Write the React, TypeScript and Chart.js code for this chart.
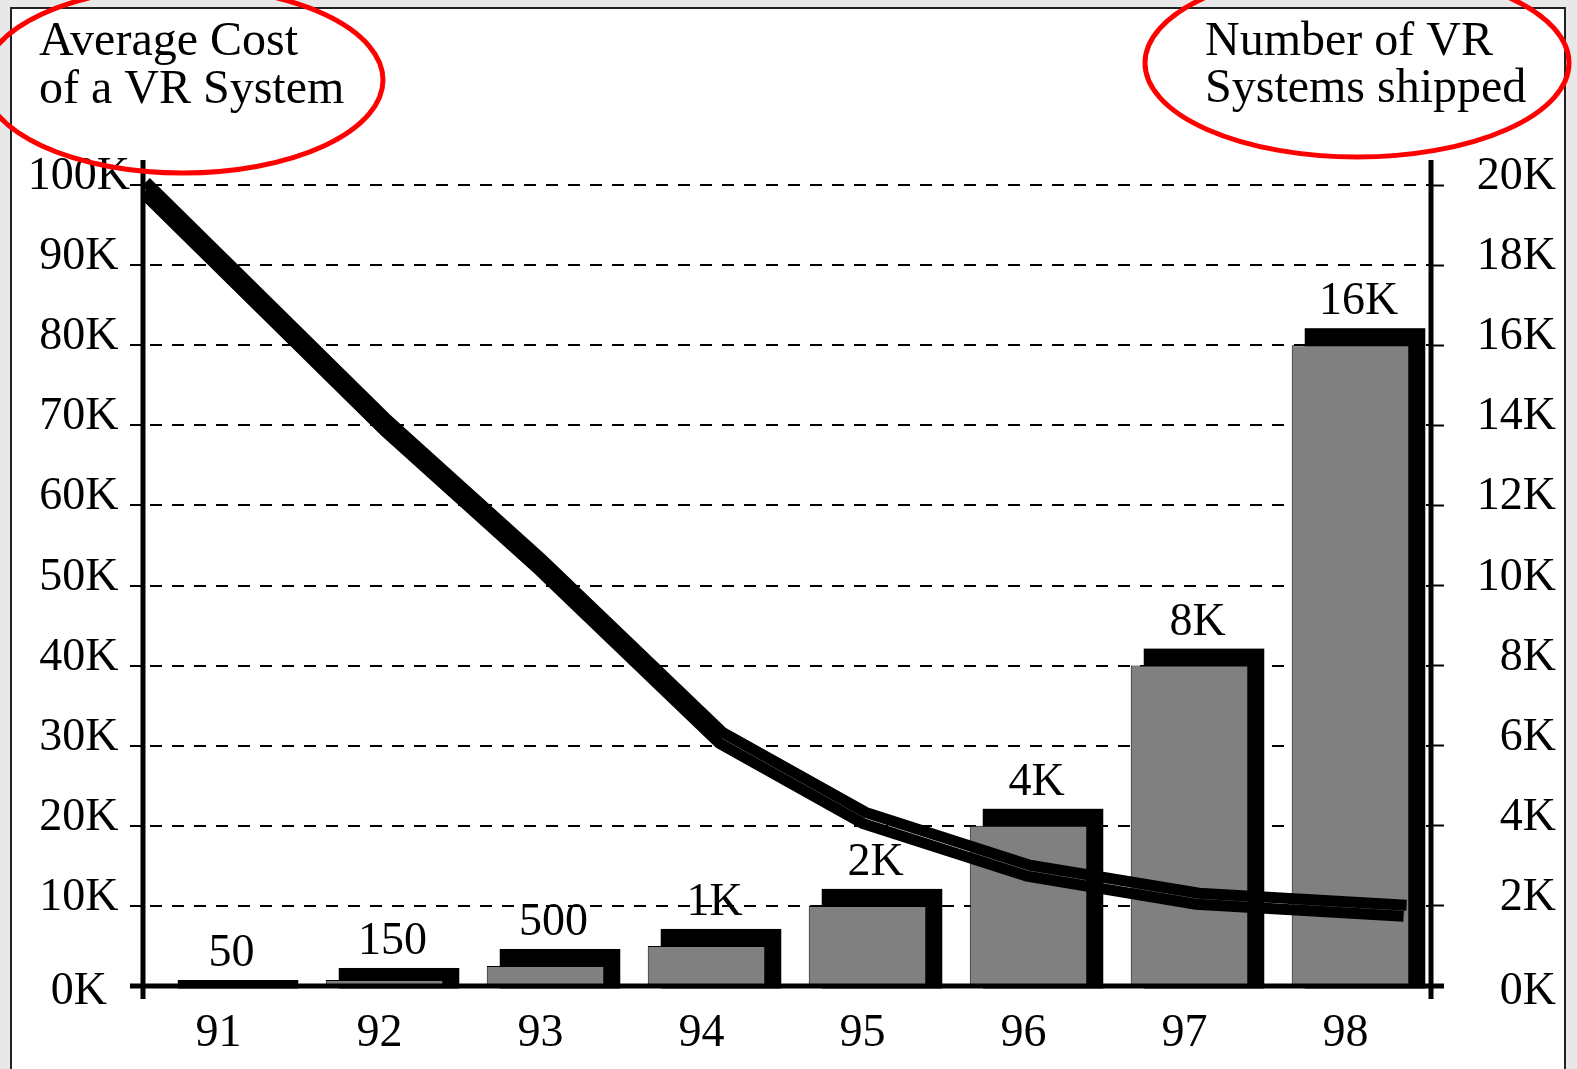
import React, { useEffect, useRef } from 'react';
import { Chart, registerables } from 'chart.js';

Chart.register(...registerables);

// ---- data ----
const YEARS = ['91', '92', '93', '94', '95', '96', '97', '98'];
const SYSTEMS_SHIPPED = [50, 150, 500, 1000, 2000, 4000, 8000, 16000];
const SHIPPED_LABELS = ['50', '150', '500', '1K', '2K', '4K', '8K', '16K'];

// cost line vertices, positioned along the year axis
const COST_YEARS = [90.5, 92, 92.96, 94.08, 94.97, 95.99, 97.04, 98.33];
const AVERAGE_COST = [99000, 69300, 51900, 30300, 20300, 13700, 10200, 8700];

const COST_TICK_LABELS = ['0K', '10K', '20K', '30K', '40K', '50K', '60K', '70K', '80K', '90K', '100K'];
const SHIPPED_TICK_LABELS = ['0K', '2K', '4K', '6K', '8K', '10K', '12K', '14K', '16K', '18K', '20K'];

const COST_TITLE = ['Average Cost', 'of a VR System'];
const SHIPPED_TITLE = ['Number of VR', 'Systems shipped'];

// ---- styling ----
const FAMILY = "'Liberation Serif', 'Times New Roman', serif";
const FONT_SIZE = 46;
const TITLE_SIZE = 48;
const INK = '#000';
const BAR_FILL = '#808080';
const AXIS_WIDTH = 5;
const SHADOW_RISE = 17;
const SHADOW_LEFT = 13;
const SHADOW_RIGHT = 16;
const LINE_WIDTH = 11;
const LINE_ECHO_DX = 3;
const LINE_ECHO_RISE = 11;

// zero tick gets an empty first line so it sits just under the baseline
const tickText = (labels: string[], step: number) => (value: number) => {
  const i = Math.round(value / step);
  const text = labels[i];
  return i === 0 ? ['', text] : text;
};

// drop shadow behind each bar
const barShadow = {
  id: 'barShadow',
  beforeDatasetDraw(chart: any, args: any) {
    if (args.meta.type !== 'bar') return;
    const ctx = chart.ctx;
    ctx.save();
    ctx.fillStyle = INK;
    for (const el of args.meta.data) {
      const h = el.base - el.y;
      const rise = Math.min(SHADOW_RISE, h * 2 + 1);
      const left = el.x - el.width / 2 + SHADOW_LEFT;
      const right = el.x + el.width / 2 + SHADOW_RIGHT;
      const top = el.y - rise;
      ctx.fillRect(left, top, right - left, el.base + 3 - top);
    }
    ctx.restore();
  },
};

// second stroke of the cost line, lifted above the first
const lineEcho = {
  id: 'lineEcho',
  afterDatasetDraw(chart: any, args: any) {
    if (args.meta.type !== 'line') return;
    const { ctx, chartArea } = chart;
    ctx.save();
    ctx.beginPath();
    ctx.rect(chartArea.left, 0, chart.width - chartArea.left, chart.height);
    ctx.clip();
    ctx.translate(LINE_ECHO_DX, -LINE_ECHO_RISE);
    args.meta.dataset.draw(ctx, chartArea);
    ctx.restore();
  },
};

// extended axis lines plus the value above each bar
const axesAndLabels = {
  id: 'axesAndLabels',
  afterDatasetsDraw(chart: any) {
    const { ctx, chartArea } = chart;
    const { left, right, top, bottom } = chartArea;
    ctx.save();
    ctx.strokeStyle = INK;
    ctx.lineWidth = AXIS_WIDTH;
    ctx.beginPath();
    ctx.moveTo(left, top - 25);
    ctx.lineTo(left, bottom + 13);
    ctx.moveTo(right, top - 25);
    ctx.lineTo(right, bottom + 13);
    ctx.moveTo(left - 13, bottom);
    ctx.lineTo(right + 13, bottom);
    ctx.stroke();

    const meta = chart.getDatasetMeta(1);
    ctx.fillStyle = INK;
    ctx.font = `${FONT_SIZE}px ${FAMILY}`;
    ctx.textAlign = 'center';
    ctx.textBaseline = 'alphabetic';
    meta.data.forEach((el: any, i: number) => {
      const h = el.base - el.y;
      const rise = Math.min(SHADOW_RISE, h * 2 + 1);
      ctx.fillText(SHIPPED_LABELS[i], el.x + 8, el.y - rise - 14);
    });
    ctx.restore();
  },
};

// corner captions circled in red
const captions = {
  id: 'captions',
  afterDraw(chart: any) {
    const ctx = chart.ctx;
    ctx.save();
    ctx.fillStyle = INK;
    ctx.font = `${TITLE_SIZE}px ${FAMILY}`;
    ctx.textAlign = 'left';
    ctx.textBaseline = 'alphabetic';
    COST_TITLE.forEach((t, i) => ctx.fillText(t, 39, 55 + i * 48));
    SHIPPED_TITLE.forEach((t, i) => ctx.fillText(t, 1205, 55 + i * 47));

    ctx.strokeStyle = '#ff0000';
    ctx.lineWidth = 5;
    ctx.beginPath();
    ctx.ellipse(183, 80, 200, 93, 0, 0, Math.PI * 2);
    ctx.stroke();
    ctx.beginPath();
    ctx.ellipse(1357, 63, 212, 94, 0, 0, Math.PI * 2);
    ctx.stroke();
    ctx.restore();
  },
};

export default function App() {
  const canvasRef = useRef<HTMLCanvasElement>(null);

  useEffect(() => {
    const canvas = canvasRef.current;
    if (!canvas) return;
    const tickFont = { family: FAMILY, size: FONT_SIZE, lineHeight: '28px' };

    const chart = new Chart(canvas, {
      type: 'bar',
      data: {
        labels: YEARS,
        datasets: [
          {
            type: 'line',
            label: 'Average Cost',
            data: COST_YEARS.map((x, i) => ({ x, y: AVERAGE_COST[i] })),
            xAxisID: 'xl',
            yAxisID: 'y',
            borderColor: INK,
            borderWidth: LINE_WIDTH,
            borderJoinStyle: 'miter',
            borderCapStyle: 'butt',
            pointRadius: 0,
            tension: 0,
            order: 0,
            clip: { left: 0, top: false, right: false, bottom: false },
          } as any,
          {
            type: 'bar',
            label: 'Systems shipped',
            data: SYSTEMS_SHIPPED,
            xAxisID: 'x',
            yAxisID: 'y2',
            backgroundColor: BAR_FILL,
            borderColor: INK,
            borderWidth: 1,
            grouped: false,
            categoryPercentage: 1,
            barPercentage: 0.73,
            order: 1,
          },
        ],
      },
      options: {
        responsive: false,
        animation: false,
        events: [],
        layout: { padding: { top: 185, right: 21, bottom: 0, left: 0 } },
        plugins: { legend: { display: false }, tooltip: { enabled: false } },
        scales: {
          x: {
            type: 'category',
            position: 'bottom',
            offset: true,
            grid: { display: false, drawTicks: false },
            border: { display: false },
            ticks: {
              color: INK,
              font: { family: FAMILY, size: FONT_SIZE },
              padding: 20,
              labelOffset: -5,
              maxRotation: 0,
              autoSkip: false,
            },
            afterFit: (s: any) => { s.height = 83; },
          },
          xl: {
            type: 'linear',
            axis: 'x',
            position: 'bottom',
            display: false,
            offset: false,
            grid: { offset: false },
            min: 90.5,
            max: 98.5,
          },
          y: {
            type: 'linear',
            position: 'left',
            min: 0,
            max: 100000,
            border: { display: false, dash: [12, 10], dashOffset: 15 },
            grid: {
              color: INK,
              lineWidth: 2,
              drawTicks: true,
              tickLength: 13,
              tickColor: INK,
              tickWidth: 2,
              tickBorderDash: [],
            },
            ticks: {
              stepSize: 10000,
              color: INK,
              font: tickFont,
              padding: 0,
              crossAlign: 'center',
              labelOffset: -8,
              autoSkip: false,
              callback: tickText(COST_TICK_LABELS, 10000) as any,
            },
            afterFit: (s: any) => { s.width = 143; },
          },
          y2: {
            type: 'linear',
            position: 'right',
            min: 0,
            max: 20000,
            border: { display: false },
            grid: {
              drawOnChartArea: false,
              drawTicks: true,
              tickLength: 13,
              tickColor: INK,
              tickWidth: 2,
            },
            ticks: {
              stepSize: 2000,
              color: INK,
              font: tickFont,
              padding: 0,
              crossAlign: 'far',
              labelOffset: -8,
              autoSkip: false,
              callback: tickText(SHIPPED_TICK_LABELS, 2000) as any,
            },
            afterFit: (s: any) => { s.width = 125; },
          },
        },
      } as any,
      plugins: [barShadow, lineEcho, axesAndLabels, captions],
    });

    return () => chart.destroy();
  }, []);

  return (
    <div style={{ position: 'fixed', inset: 0, background: '#e8e8e8', overflow: 'hidden' }}>
      <div
        style={{
          position: 'absolute',
          left: 10,
          top: 7,
          width: 1556,
          height: 1100,
          background: '#fff',
          border: '2px solid #222',
          boxSizing: 'border-box',
        }}
      />
      <canvas
        ref={canvasRef}
        width={1577}
        height={1069}
        style={{ position: 'absolute', left: 0, top: 0, width: 1577, height: 1069 }}
      />
    </div>
  );
}
